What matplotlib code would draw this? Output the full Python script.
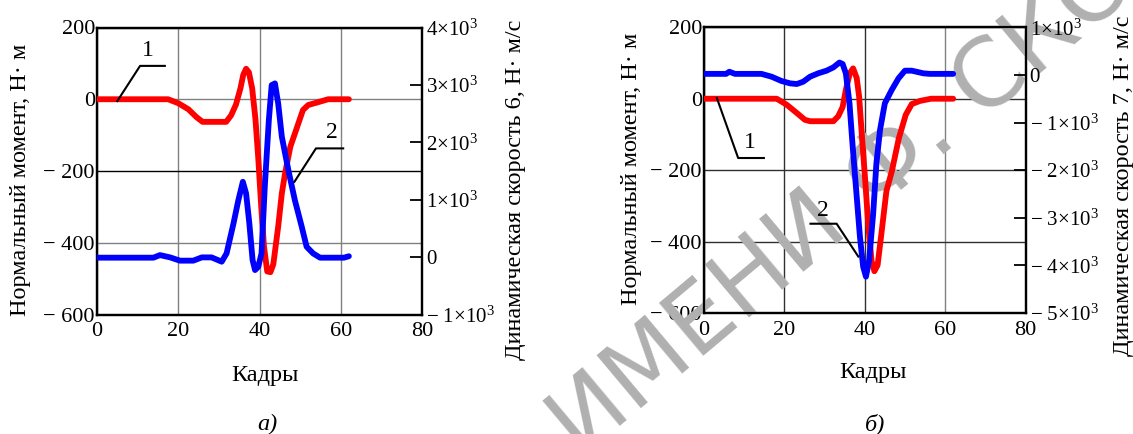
import matplotlib
matplotlib.use("Agg")
import matplotlib.pyplot as plt
from matplotlib.ticker import FixedLocator, FixedFormatter

plt.rcParams['font.family'] = ['Liberation Serif', 'DejaVu Serif']
plt.rcParams['mathtext.fontset'] = 'custom'
plt.rcParams['mathtext.rm'] = 'Liberation Serif'
plt.rcParams['mathtext.it'] = 'Liberation Serif:italic'

# --- panel a: normal moment (curve 1) and dynamic speed 6 (curve 2)
a_frames_1 = [0, 17.5, 20, 22.5, 24.5, 26, 31.8, 33, 34.2, 35.3, 36, 36.7, 37.4, 38.2, 39,
              39.7, 40.4, 41.1, 41.9, 42.7, 43.4, 44.6, 45.5, 46.3, 47.6, 49, 50.7, 52, 54.2,
              56.9, 62]
a_moment = [0, 0, -11, -28, -50, -63, -63, -45, -15, 30, 68, 85, 75, 30, -55,
            -165, -295, -410, -480, -482, -460, -355, -262, -206, -132, -86, -30, -16, -9,
            0, 0]
a_frames_2 = [0, 13.9, 15.5, 18, 20.4, 23.7, 25.8, 28.2, 30.7, 31.9, 33.6, 34.8, 35.9, 36.7,
              37.5, 38.3, 38.9, 39.7, 40.5, 41.3, 42.3, 43, 43.8, 44.6, 45.5, 47.1, 48.7, 50.4,
              51.6, 53.2, 54.9, 60.8, 62]
a_speed = [-10, -10, 35, -5, -62, -62, -5, -5, -80, 65, 587, 993, 1312, 1109,
           587, -52, -226, -168, 65, 1225, 2387, 2997, 3026, 2677, 2096, 1516, 993, 528,
           180, 64, -10, -10, 15]

# --- panel b: normal moment (curve 1) and dynamic speed 7 (curve 2)
b_frames_1 = [0, 18.1, 20.6, 23.1, 25.1, 26.4, 32.2, 33.4, 34.5, 35.3, 36.3, 37.1, 38, 38.6,
              39.3, 40.1, 40.9, 41.7, 42.4, 43.2, 44.1, 45.4, 46.7, 48.5, 50.2, 51.7, 53.8,
              56.5, 62]
b_moment = [0, 0, -17, -40, -59, -63, -63, -49, -23, 25, 72, 85, 58, 6,
            -105, -227, -357, -455, -483, -466, -382, -258, -205, -110, -45, -15, -6,
            0, 0]
b_frames_2 = [0, 5.5, 6.3, 7.7, 14.3, 16.8, 19.3, 21.4, 23.1, 24.7, 26.4, 28.4, 30.5, 32.2,
              33.7, 34.5, 35.3, 36.2, 37, 38, 38.8, 39.6, 40.3, 41.1, 42.1, 42.9, 43.8, 45,
              46.7, 48.4, 50, 51.7, 54.6, 56.2, 62]
b_speed = [22, 22, 67, 22, 22, -37, -128, -177, -191, -142, -37, 33, 89, 159,
           260, 229, 33, -597, -1507, -2557, -3397, -4027, -4237, -3887, -2907, -1857, -1157, -597,
           -317, -72, 89, 89, 33, 22, 22]

x_ticks = [0, 20, 40, 60, 80]
m_ticks = [200, 0, -200, -400, -600]
m_labels = ['200', '0', '\u2212 200', '\u2212 400', '\u2212 600']
a_sp_ticks = [4000, 3000, 2000, 1000, 0, -1000]
a_sp_labels = ['4\u00d710$^{3}$', '3\u00d710$^{3}$', '2\u00d710$^{3}$', '1\u00d710$^{3}$', '0',
               '\u2212 1\u00d710$^{3}$']
b_sp_ticks = [1000, 0, -1000, -2000, -3000, -4000, -5000]
b_sp_labels = ['1\u00d710$^{3}$', '0', '\u2212 1\u00d710$^{3}$', '\u2212 2\u00d710$^{3}$',
               '\u2212 3\u00d710$^{3}$', '\u2212 4\u00d710$^{3}$', '\u2212 5\u00d710$^{3}$']

W, H = 1133, 434
fig = plt.figure(figsize=(W / 100, H / 100), dpi=100)


def px(x, y):
    return x / W, 1 - y / H


def panel(rect, fr1, mom, fr2, spd, sp_ticks, sp_labels, grid_col, leaders):
    ax = fig.add_axes(rect)
    ax.patch.set_alpha(0)
    ax2 = ax.twinx()
    ax2.patch.set_alpha(0)
    ax.set_zorder(1)
    ax2.set_zorder(2)

    ax.set_xlim(0, 80)
    ax.set_ylim(-600, 200)
    ax.xaxis.set_major_locator(FixedLocator(x_ticks))
    ax.yaxis.set_major_locator(FixedLocator(m_ticks))
    ax.yaxis.set_major_formatter(FixedFormatter(m_labels))
    ax.tick_params(axis='both', length=0, labelsize=16)
    ax.tick_params(axis='x', pad=5.5)
    ax.tick_params(axis='y', pad=1.5)
    ax.grid(True, color=grid_col, linewidth=1.0)

    ax2.set_ylim(sp_ticks[-1], sp_ticks[0])
    ax2.yaxis.set_major_locator(FixedLocator(sp_ticks))
    ax2.yaxis.set_major_formatter(FixedFormatter(sp_labels))
    ax2.tick_params(axis='y', direction='in', length=8.5, width=1.3, labelsize=15, pad=3)

    for a in (ax, ax2):
        for s in a.spines.values():
            s.set_linewidth(1.6)
            s.set_color('black')

    # both curves live on ax2 so a watermark can sit between grid and curves
    ax2.plot(fr1, mom, color='#ff0000', lw=4.2, solid_capstyle='round', zorder=3,
             transform=ax.transData)
    ax2.plot(fr2, spd, color='#0000ff', lw=4.2, solid_capstyle='round', zorder=3)

    for xs, ys, (tx, ty), num in leaders:
        ax2.plot(xs, ys, color='black', lw=1.5, zorder=4, clip_on=False,
                 transform=ax.transData)
        ax2.text(tx, ty, num, fontsize=17, ha='center', va='center',
                 transform=ax.transData, zorder=5)
    return ax, ax2


# panel a
axa, axa2 = panel([97 / W, 1 - 314.5 / H, 325 / W, 287 / H], a_frames_1, a_moment,
                  a_frames_2, a_speed, a_sp_ticks, a_sp_labels, '#808080',
                  [([5.0, 10.6, 16.7], [-5, 93, 93], (12.4, 135), '1'),
                   ([48.6, 53.9, 60.6], [-230, -137, -137], (57.8, -92), '2')])
axa.yaxis.get_gridlines()[2].set_color('black')

# panel b
axb, axb2 = panel([704 / W, 1 - 313 / H, 321.5 / W, 285.7 / H], b_frames_1, b_moment,
                  b_frames_2, b_speed, b_sp_ticks, b_sp_labels, '#303030',
                  [([3.2, 8.5, 14.9], [2, -166, -166], (11.4, -122), '1'),
                   ([26.5, 33.0, 38.4], [-350, -350, -442], (29.7, -314), '2')])
axb.xaxis.get_gridlines()[3].set_color('#808080')

# watermark: over the grid, under curves, ticks and tick labels
axb2.text(*px(580, 459), 'ИМЕНИ Ф. СКОРИНЫ', family='DejaVu Sans', fontsize=68,
          color='#b0b0b0', rotation=40, rotation_mode='anchor', ha='left', va='baseline',
          transform=fig.transFigure, clip_on=False, zorder=1.4)

# axis titles
fig.text(*px(21, 180), 'Нормальный момент, Н· м', rotation=90, fontsize=17.5,
         ha='center', va='center')
fig.text(*px(516, 190), 'Динамическая скорость 6, Н· м/с', rotation=90, fontsize=17.5,
         ha='center', va='center')
fig.text(*px(265, 381), 'Кадры', fontsize=17.5, ha='center', va='baseline')
fig.text(*px(267, 430), 'а)', fontsize=17.5, style='italic', ha='center', va='baseline')

fig.text(*px(631, 169), 'Нормальный момент, Н· м', rotation=90, fontsize=17.5,
         ha='center', va='center')
fig.text(*px(1124, 186), 'Динамическая скорость 7, Н· м/с', rotation=90, fontsize=17.5,
         ha='center', va='center')
fig.text(*px(873, 378), 'Кадры', fontsize=17.5, ha='center', va='baseline')
fig.text(*px(875, 430), 'б)', fontsize=17.5, style='italic', ha='center', va='baseline')

fig.savefig('out.png', dpi=100)
